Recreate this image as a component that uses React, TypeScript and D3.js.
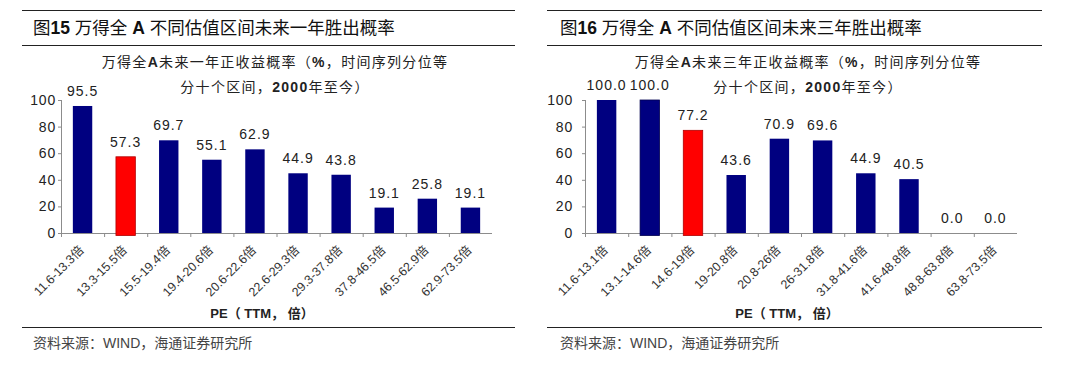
import React from "react";
import * as d3 from "d3";

const leftCategories = ["11.6-13.3倍", "13.3-15.5倍", "15.5-19.4倍", "19.4-20.6倍", "20.6-22.6倍", "22.6-29.3倍", "29.3-37.8倍", "37.8-46.5倍", "46.5-62.9倍", "62.9-73.5倍"];
const leftValues = [95.5, 57.3, 69.7, 55.1, 62.9, 44.9, 43.8, 19.1, 25.8, 19.1];
const leftHighlight = [false, true, false, false, false, false, false, false, false, false];
const leftOutlined = [false, true, false, false, false, false, false, false, false, false];

const rightCategories = ["11.6-13.1倍", "13.1-14.6倍", "14.6-19倍", "19-20.8倍", "20.8-26倍", "26-31.8倍", "31.8-41.6倍", "41.6-48.8倍", "48.8-63.8倍", "63.8-73.5倍"];
const rightValues = [100.0, 100.0, 77.2, 43.6, 70.9, 69.6, 44.9, 40.5, 0.0, 0.0];
const rightHighlight = [false, false, true, false, false, false, false, false, false, false];
const rightOutlined = [false, true, true, false, false, false, false, false, false, false];

const yTicks = [0, 20, 40, 60, 80, 100];

const leftFigNo = "15";
const rightFigNo = "16";
const leftPeriod = "一";
const rightPeriod = "三";

const NAVY = "#000080";
const RED = "#FF0000";
const LATIN = "'Liberation Sans', Arial, 'Noto Sans CJK SC', sans-serif";

type PanelProps = {
  categories: string[];
  values: number[];
  highlight: boolean[];
  outlined: boolean[];
  figNo: string;
  period: string;
  ruleX1: number;
  ruleX2: number;
  titleX: number;
  plotLeft: number;
  plotRight: number;
  chartTitleCx: number;
  xTitleCx: number;
  yLabelGap: number;
};

function Panel(p: PanelProps) {
  const top = 100;
  const bottom = 233;
  const x = d3
    .scaleBand<string>()
    .domain(p.categories)
    .range([p.plotLeft, p.plotRight])
    .paddingInner(0.55)
    .paddingOuter(0.275);
  const y = d3.scaleLinear().domain([0, 100]).range([bottom, top]);
  const step = x.step();
  const boundaries = p.categories.map((_, i) => p.plotLeft + i * step);

  return (
    <g>
      <line x1={p.ruleX1} x2={p.ruleX2} y1={10.5} y2={10.5} stroke="#222" strokeWidth={1} />
      <text x={p.titleX} y={34} fontSize={17.5} fill="#111" fontFamily={LATIN}>
        <tspan>图</tspan>
        <tspan fontWeight="bold">{p.figNo}</tspan>
        <tspan> 万得全 </tspan>
        <tspan fontWeight="bold">A</tspan>
        <tspan>{" 不同估值区间未来" + p.period + "年胜出概率"}</tspan>
      </text>
      <line x1={p.ruleX1} x2={p.ruleX2} y1={45.5} y2={45.5} stroke="#222" strokeWidth={1} />

      <text x={p.chartTitleCx} y={67} textAnchor="middle" fontSize={14} fill="#222" fontFamily={LATIN} letterSpacing={1.3}>
        <tspan>万得全</tspan>
        <tspan fontWeight="bold">A</tspan>
        <tspan>{"未来" + p.period + "年正收益概率（"}</tspan>
        <tspan fontWeight="bold">%</tspan>
        <tspan>，时间序列分位等</tspan>
      </text>
      <text x={p.chartTitleCx} y={92} textAnchor="middle" fontSize={14} fill="#222" fontFamily={LATIN} letterSpacing={1.3}>
        <tspan>分十个区间，</tspan>
        <tspan fontWeight="bold">2000</tspan>
        <tspan>年至今）</tspan>
      </text>

      {/* y axis */}
      <line x1={p.plotLeft + 0.5} x2={p.plotLeft + 0.5} y1={top} y2={bottom} stroke="#8c8c8c" strokeWidth={1} />
      {yTicks.map((t) => (
        <g key={t}>
          <line x1={p.plotLeft - 3} x2={p.plotLeft} y1={y(t) + 0.5} y2={y(t) + 0.5} stroke="#8c8c8c" strokeWidth={1} />
          <text x={p.plotLeft - p.yLabelGap} y={y(t) + 5} textAnchor="end" fontSize={14} fill="#222" fontFamily={LATIN} letterSpacing={0.8}>
            {t}
          </text>
        </g>
      ))}

      {/* x axis */}
      <line x1={p.plotLeft} x2={p.plotRight} y1={bottom + 0.5} y2={bottom + 0.5} stroke="#8c8c8c" strokeWidth={1.2} />
      {boundaries.map((bx, i) => (
        <line key={i} x1={bx + 0.5} x2={bx + 0.5} y1={bottom} y2={bottom + 4} stroke="#8c8c8c" strokeWidth={1} />
      ))}

      {/* bars */}
      {p.categories.map((c, i) => {
        const v = p.values[i];
        const h = bottom - y(v);
        const ext = p.outlined[i] ? 2.5 : 0;
        return (
          <rect
            key={c}
            x={x(c)!}
            y={y(v)}
            width={x.bandwidth()}
            height={h + ext}
            fill={p.highlight[i] ? RED : NAVY}
            stroke={p.outlined[i] ? (p.highlight[i] ? "#b00000" : "#000050") : "none"}
            strokeWidth={p.outlined[i] ? 0.8 : 0}
          />
        );
      })}

      {/* value labels */}
      {p.categories.map((c, i) => (
        <text
          key={c}
          x={x(c)! + x.bandwidth() / 2}
          y={y(p.values[i]) - 10}
          textAnchor="middle"
          fontSize={14}
          fill="#222"
          fontFamily={LATIN}
          letterSpacing={1}
        >
          {p.values[i].toFixed(1)}
        </text>
      ))}

      {/* category labels */}
      {p.categories.map((c) => {
        const cx = x(c)! + x.bandwidth() / 2 + 2;
        const cy = bottom + 18;
        return (
          <text
            key={c}
            x={cx}
            y={cy}
            transform={`rotate(-45 ${cx} ${cy})`}
            textAnchor="end"
            fontSize={12.5}
            fill="#333"
            fontFamily={LATIN}
          >
            {c}
          </text>
        );
      })}

      <text x={p.xTitleCx} y={318} textAnchor="middle" fontSize={13} fontWeight="bold" fill="#222" fontFamily={LATIN}>
        PE（ TTM， 倍）
      </text>

      <line x1={p.ruleX1} x2={p.ruleX2} y1={327.5} y2={327.5} stroke="#222" strokeWidth={1} />
      <text x={p.titleX} y={348} fontSize={14} fill="#444" fontFamily={LATIN}>
        资料来源：WIND，海通证券研究所
      </text>
    </g>
  );
}

export default function App() {
  return (
    <div style={{ position: "fixed", left: 0, top: 0, width: 1080, height: 383, background: "#fff" }}>
      <svg width={1080} height={383} viewBox="0 0 1080 383">
        <rect x={0} y={0} width={1080} height={383} fill="#fff" />
        <Panel
          categories={leftCategories}
          values={leftValues}
          highlight={leftHighlight}
          outlined={leftOutlined}
          figNo={leftFigNo}
          period={leftPeriod}
          ruleX1={22}
          ruleX2={515}
          titleX={33}
          plotLeft={61}
          plotRight={492}
          chartTitleCx={275}
          xTitleCx={262}
          yLabelGap={5}
        />
        <Panel
          categories={rightCategories}
          values={rightValues}
          highlight={rightHighlight}
          outlined={rightOutlined}
          figNo={rightFigNo}
          period={rightPeriod}
          ruleX1={547}
          ruleX2={1042}
          titleX={560}
          plotLeft={585}
          plotRight={1017}
          chartTitleCx={808}
          xTitleCx={787}
          yLabelGap={12}
        />
      </svg>
    </div>
  );
}
